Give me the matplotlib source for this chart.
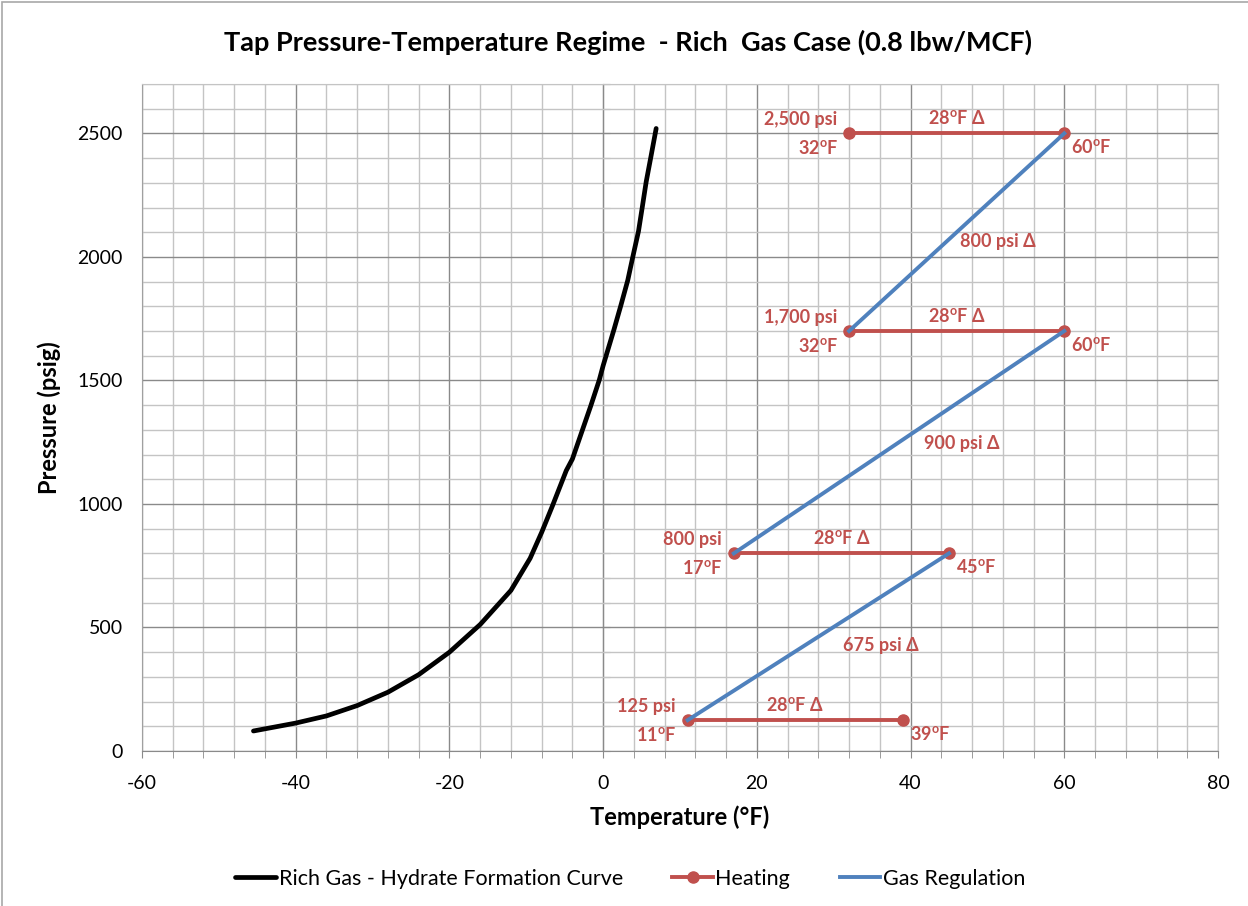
import numpy as np
import matplotlib
matplotlib.use("Agg")
import matplotlib.pyplot as plt
from matplotlib.ticker import MultipleLocator, NullFormatter
from matplotlib.patches import Rectangle

plt.rcParams['font.family'] = ['Lato', 'DejaVu Sans']
plt.rcParams['axes.unicode_minus'] = False
plt.rcParams['mathtext.fontset'] = 'custom'
plt.rcParams['mathtext.rm'] = 'Lato:bold'
plt.rcParams['mathtext.it'] = 'Lato:bold'
plt.rcParams['mathtext.bf'] = 'Lato:bold'

# --- data ---
curve_temp = [-45.5, -40, -36, -32, -28, -24, -20, -16, -12, -9.5, -8, -6.6,
              -4.8, -4, -3.1, -1.6, -0.5, 0, 1.4, 2.3, 3.2, 3.9, 4.6, 5.1,
              5.6, 6.2, 6.9]
curve_psi = [81, 113, 142, 184, 238, 309, 400, 512, 650, 780, 885, 992,
             1135, 1182, 1263, 1398, 1502, 1560, 1705, 1803, 1905, 2006, 2104,
             2203, 2304, 2403, 2520]

# heating steps: start temp -> end temp at constant pressure
heat_psi = [2500, 1700, 800, 125]
heat_t0 = [32, 32, 17, 11]
heat_t1 = [60, 60, 45, 39]
psi_labels = ["2,500 psi", "1,700 psi", "800 psi", "125 psi"]

# gas regulation: pressure drop after heating
reg_t0 = [60, 60, 45]
reg_p0 = [2500, 1700, 800]
reg_t1 = [32, 17, 11]
reg_p1 = [1700, 800, 125]
reg_label_pos = [(51.4, 2062), (46.7, 1246), (36.1, 426)]

red = "#C0504D"
blue = "#4F81BD"

fig = plt.figure(figsize=(12.48, 9.06), dpi=100)
ax = fig.add_axes([142/1248, 1-751/906, (1218-142)/1248, (751-84)/906])

ax.set_xlim(-60, 80)
ax.set_ylim(0, 2700)
ax.xaxis.set_major_locator(MultipleLocator(20))
ax.xaxis.set_minor_locator(MultipleLocator(4))
ax.yaxis.set_major_locator(MultipleLocator(500))
ax.yaxis.set_minor_locator(MultipleLocator(100))
ax.grid(which='minor', color='#c4c4c4', lw=1.0, zorder=0)
ax.grid(which='major', color='#8a8a8a', lw=1.0, zorder=0)
ax.set_axisbelow(True)
ax.tick_params(axis='x', which='both', direction='out', length=5, color='#8a8a8a', labelsize=14, pad=12)
ax.tick_params(axis='y', which='both', length=0, labelsize=14, pad=14)
for s in ['top', 'right']:
    ax.spines[s].set_color('#c4c4c4')
ax.spines['left'].set_color('#a0a0a0')
ax.spines['bottom'].set_color('#8a8a8a')

# y axis line crossing at x = 0
sec = ax.secondary_yaxis(60/140)
sec.yaxis.set_major_locator(MultipleLocator(100))
sec.yaxis.set_major_formatter(NullFormatter())
sec.tick_params(direction='in', length=5, color='#7a7a7a')
sec.spines['left'].set_color('#7a7a7a')

# curve
ax.plot(curve_temp, curve_psi, color='black', lw=3.4, solid_capstyle='round',
        label='Rich Gas - Hydrate Formation Curve', zorder=3)

# heating
lab = dict(color=red, fontsize=13, fontweight='bold', textcoords='offset pixels')
for i in range(len(heat_psi)):
    ax.plot([heat_t0[i], heat_t1[i]], [heat_psi[i], heat_psi[i]], color=red, lw=2.8,
            marker='o', ms=8, zorder=3, label='Heating' if i == 0 else None)
    p = heat_psi[i]
    ax.annotate(psi_labels[i], (heat_t0[i], p), xytext=(-12, 14), ha='right', va='center', **lab)
    ax.annotate("%d$^{\\mathrm{o}}$F" % heat_t0[i], (heat_t0[i], p), xytext=(-11, -15),
                ha='right', va='center', **lab)
    ax.annotate("%d$^{\\mathrm{o}}$F" % heat_t1[i], (heat_t1[i], p), xytext=(7, -14),
                ha='left', va='center', **lab)
    ax.annotate("%d$^{\\mathrm{o}}$F \u0394" % (heat_t1[i] - heat_t0[i]),
                ((heat_t0[i] + heat_t1[i]) / 2, p), xytext=(0, 15),
                ha='center', va='center', **lab)

# gas regulation
for i in range(len(reg_t0)):
    ax.plot([reg_t0[i], reg_t1[i]], [reg_p0[i], reg_p1[i]], color=blue, lw=2.8,
            zorder=4, label='Gas Regulation' if i == 0 else None)
    ax.text(reg_label_pos[i][0], reg_label_pos[i][1], "%d psi \u0394" % (reg_p0[i] - reg_p1[i]),
            ha='center', va='center', color=red, fontsize=13, fontweight='bold')

ax.set_xlabel("Temperature (\u00b0F)", fontsize=17, fontweight='bold', labelpad=10)
ax.set_ylabel("Pressure (psig)", fontsize=17, fontweight='bold', labelpad=12)
fig.text(0.503, 1-42/906, "Tap Pressure-Temperature Regime  - Rich  Gas Case (0.8 lbw/MCF)",
         ha='center', va='center', fontsize=19.5, fontweight='bold')

fig.legend(loc='center', bbox_to_anchor=(0.505, 1-879/906), ncol=3, frameon=False,
           fontsize=15.5, handlelength=1.9, handletextpad=0.1, columnspacing=2.3)

fig.patches.append(Rectangle((2/1248, -0.05), 1.1, 1.05 - 2/906, transform=fig.transFigure,
                             fill=False, edgecolor='#a8a8a8', lw=1.2))

fig.savefig("out.png", dpi=100)
